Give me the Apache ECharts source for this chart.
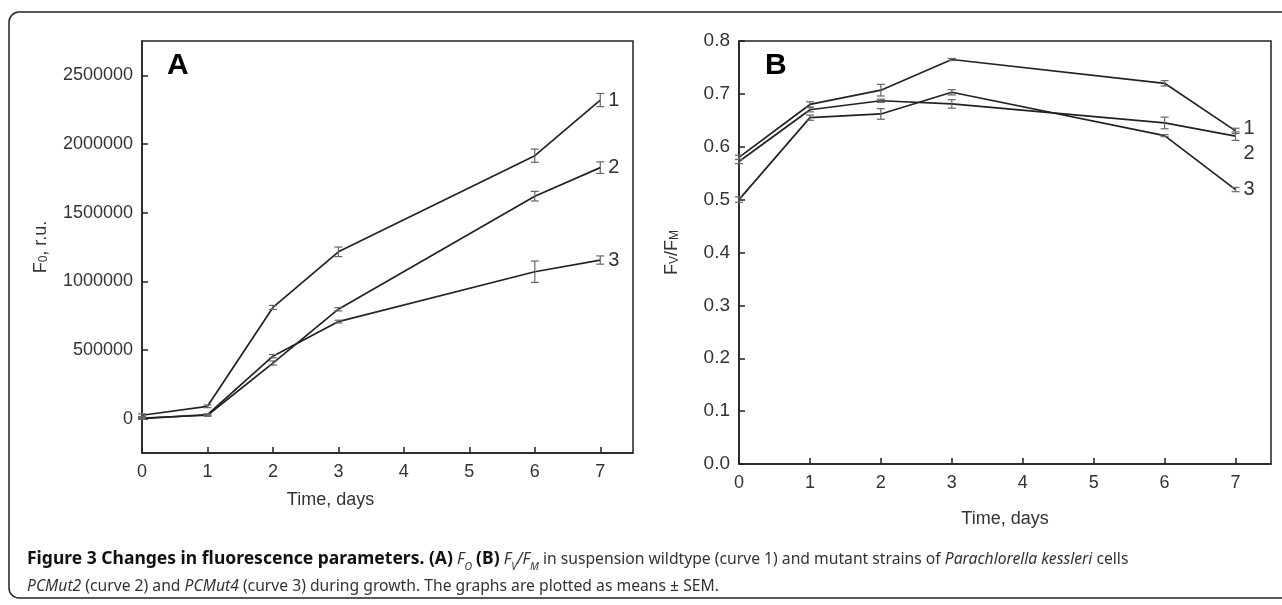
<!DOCTYPE html>
<html>
<head>
<meta charset="utf-8">
<style>
  html, body { margin: 0; padding: 0; background: #fff; }
  #chart { width: 1282px; height: 605px; }
</style>
<script src="https://cdn.jsdelivr.net/npm/echarts@6/dist/echarts.min.js"></script>
</head>
<body>
<div id="chart"></div>
<script>
  // time points (days)
  const days = [0, 1, 2, 3, 6, 7]
  const xTicks = [0, 1, 2, 3, 4, 5, 6, 7]

  // panel A: F0, r.u.
  const fo1 = [25000, 90000, 810000, 1215000, 1915000, 2320000]
  const fo2 = [5000, 25000, 405000, 797000, 1620000, 1828000]
  const fo3 = [0, 30000, 455000, 707000, 1070000, 1155000]
  const foErr1 = [10000, 10000, 15000, 35000, 48000, 48000]
  const foErr2 = [5000, 8000, 15000, 12000, 35000, 42000]
  const foErr3 = [5000, 5000, 12000, 10000, 78000, 30000]
  const foTicks = [0, 500000, 1000000, 1500000, 2000000, 2500000]

  // panel B: Fv/Fm
  const fv1 = [0.580, 0.680, 0.707, 0.765, 0.720, 0.630]
  const fv2 = [0.572, 0.670, 0.687, 0.681, 0.645, 0.620]
  const fv3 = [0.500, 0.655, 0.662, 0.703, 0.621, 0.519]
  const fvErr1 = [0.004, 0.005, 0.011, 0.002, 0.005, 0.005]
  const fvErr2 = [0.004, 0.004, 0.003, 0.008, 0.011, 0.008]
  const fvErr3 = [0.005, 0.005, 0.010, 0.005, 0.002, 0.004]
  const fvTicks = [0.0, 0.1, 0.2, 0.3, 0.4, 0.5, 0.6, 0.7, 0.8]

  const curveNames = ['1', '2', '3']

  const FONT = 'Liberation Sans'
  const CAP = 'Noto Sans'
  const INK = '#222'
  const LABEL = '#333'

  const chart = echarts.init(document.getElementById('chart'))

  function pairs (vals) {
    return days.map((d, i) => [d, vals[i]])
  }
  function errPairs (vals, errs) {
    return days.map((d, i) => [d, vals[i], errs[i]])
  }

  // I-shaped error bar
  function renderErr (params, api) {
    const x = api.value(0)
    const y = api.value(1)
    const e = api.value(2)
    const top = api.coord([x, y + e])
    const bot = api.coord([x, y - e])
    const w = 4
    const style = { stroke: '#666', lineWidth: 1.2 }
    return {
      type: 'group',
      children: [
        { type: 'line', shape: { x1: top[0], y1: top[1], x2: bot[0], y2: bot[1] }, style: style },
        { type: 'line', shape: { x1: top[0] - w, y1: top[1], x2: top[0] + w, y2: top[1] }, style: style },
        { type: 'line', shape: { x1: bot[0] - w, y1: bot[1], x2: bot[0] + w, y2: bot[1] }, style: style }
      ]
    }
  }

  function lineSeries (idx, vals, name, offset) {
    return {
      type: 'line',
      xAxisIndex: idx,
      yAxisIndex: idx,
      data: pairs(vals),
      showSymbol: false,
      lineStyle: { color: INK, width: 1.7 },
      itemStyle: { color: INK },
      z: 3,
      endLabel: {
        show: true,
        formatter: name,
        offset: offset || [0, 0],
        distance: 8,
        fontFamily: FONT,
        fontSize: 20,
        color: LABEL
      }
    }
  }

  function errSeries (idx, vals, errs) {
    return {
      type: 'custom',
      xAxisIndex: idx,
      yAxisIndex: idx,
      data: errPairs(vals, errs),
      encode: { x: 0, y: 1 },
      renderItem: renderErr,
      z: 4
    }
  }

  function xAxis (idx, nameGap, namePad) {
    return {
      type: 'value',
      gridIndex: idx,
      min: 0,
      max: 7.5,
      name: 'Time, days',
      nameLocation: 'middle',
      nameGap: nameGap,
      nameTextStyle: { fontFamily: FONT, fontSize: 18, color: LABEL, padding: namePad },
      axisLine: { onZero: false, lineStyle: { color: INK, width: 1.5 } },
      axisTick: { inside: true, length: 6, customValues: xTicks, lineStyle: { color: INK, width: 1.5 } },
      axisLabel: { customValues: xTicks, fontFamily: FONT, fontSize: 18, color: LABEL, margin: 10 },
      splitLine: { show: false }
    }
  }

  const subRich = {
    a: { fontFamily: FONT, fontSize: 18, color: LABEL },
    s: { fontFamily: FONT, fontSize: 12, color: LABEL, verticalAlign: 'bottom', padding: [6, 0, 0, 0] }
  }

  const capBase = { fontFamily: CAP, fontSize: 15.7, color: '#333', lineHeight: 27, fontWeight: 'normal' }

  chart.setOption({
    animation: false,
    title: [
      { text: 'A', left: 162, top: 46, textStyle: { fontFamily: FONT, fontSize: 30, fontWeight: 'bold', color: '#000' } },
      { text: 'B', left: 760, top: 46, textStyle: { fontFamily: FONT, fontSize: 30, fontWeight: 'bold', color: '#000' } },
      {
        left: 22,
        top: 541,
        text: '{b|Figure 3 Changes in fluorescence parameters. (A)} {i|F}{is|O} {b|(B)} {i|F}{is|V}{i|/F}{is|M}{n| in suspension wildtype (curve 1) and mutant strains of }{i|Parachlorella kessleri}{n| cells}\n' +
          '{i|PCMut2}{n| (curve 2) and }{i|PCMut4}{n| (curve 3) during growth. The graphs are plotted as means ± SEM.}',
        textStyle: Object.assign({}, capBase, {
          rich: {
            b: Object.assign({}, capBase, { fontSize: 17.5, fontWeight: 'bold', color: '#111' }),
            n: Object.assign({}, capBase),
            i: Object.assign({}, capBase, { fontStyle: 'italic' }),
            is: Object.assign({}, capBase, { fontSize: 10.5, fontStyle: 'italic', verticalAlign: 'bottom', padding: [8, 0, 0, 0] })
          }
        })
      }
    ],
    graphic: [
      {
        type: 'rect',
        shape: { x: 9, y: 12, width: 1300, height: 586, r: 10 },
        style: { fill: 'none', stroke: INK, lineWidth: 1.5 },
        silent: true
      }
    ],
    grid: [
      { left: 142, top: 41, right: 649, bottom: 152, show: true, borderColor: INK, borderWidth: 1.5, containLabel: false },
      { left: 739, top: 41, right: 11, bottom: 141, show: true, borderColor: INK, borderWidth: 1.5, containLabel: false }
    ],
    xAxis: [
      xAxis(0, 38, [0, 114, 0, 0]),
      xAxis(1, 46, [0, 0, 0, 0])
    ],
    yAxis: [
      {
        type: 'value',
        gridIndex: 0,
        min: -250000,
        max: 2750000,
        name: '{a|F}{s|0}{a|, r.u.}',
        nameLocation: 'middle',
        nameGap: 92,
        nameTextStyle: { rich: subRich },
        axisLine: { lineStyle: { color: INK, width: 1.5 } },
        axisTick: { inside: true, length: 6, customValues: foTicks, lineStyle: { color: INK, width: 1.5 } },
        axisLabel: {
          customValues: foTicks,
          formatter: v => String(v),
          fontFamily: FONT, fontSize: 18, color: LABEL, margin: 9
        },
        splitLine: { show: false }
      },
      {
        type: 'value',
        gridIndex: 1,
        min: 0,
        max: 0.8,
        name: '{a|F}{s|V}{a|/F}{s|M}',
        nameLocation: 'middle',
        nameGap: 58,
        nameTextStyle: { rich: subRich },
        axisLine: { lineStyle: { color: INK, width: 1.5 } },
        axisTick: { inside: true, length: 6, customValues: fvTicks, lineStyle: { color: INK, width: 1.5 } },
        axisLabel: {
          customValues: fvTicks,
          formatter: v => v.toFixed(1),
          fontFamily: FONT, fontSize: 19, color: LABEL, margin: 9
        },
        splitLine: { show: false }
      }
    ],
    series: [
      lineSeries(0, fo1, curveNames[0]),
      lineSeries(0, fo2, curveNames[1]),
      lineSeries(0, fo3, curveNames[2]),
      errSeries(0, fo1, foErr1),
      errSeries(0, fo2, foErr2),
      errSeries(0, fo3, foErr3),
      lineSeries(1, fv1, curveNames[0], [0, -2]),
      lineSeries(1, fv2, curveNames[1], [0, 17]),
      lineSeries(1, fv3, curveNames[2]),
      errSeries(1, fv1, fvErr1),
      errSeries(1, fv2, fvErr2),
      errSeries(1, fv3, fvErr3)
    ]
  })
</script>
</body>
</html>
